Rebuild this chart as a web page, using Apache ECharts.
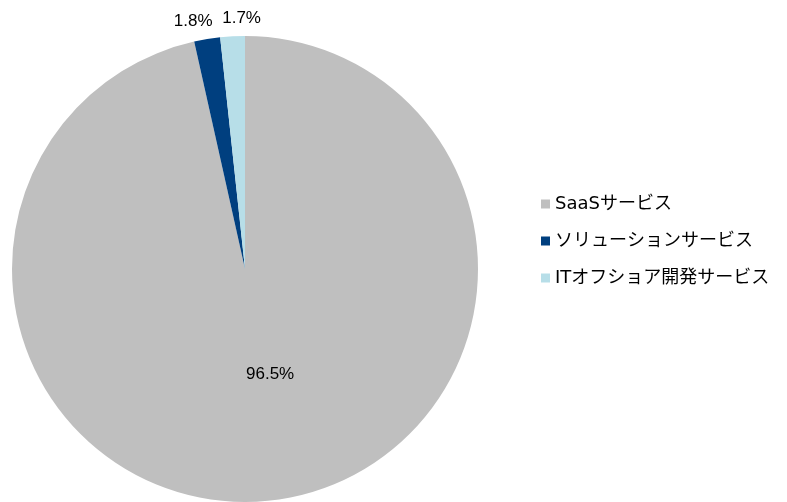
<!DOCTYPE html>
<html>
<head>
<meta charset="utf-8">
<script src="https://cdn.jsdelivr.net/npm/echarts@6/dist/echarts.min.js"></script>
<style>
  html, body { margin: 0; padding: 0; background: #fff; }
  #chart { width: 787px; height: 502px; }
</style>
</head>
<body>
<div id="chart"></div>
<script>
// Revenue share by business segment
const categories = ['SaaSサービス', 'ソリューションサービス', 'ITオフショア開発サービス'];
const shares = [96.5, 1.8, 1.7];
const colors = ['#BFBFBF', '#003F7F', '#B7DEE8'];

const labelFont = '"Liberation Sans Narrow", "Liberation Sans", Arial, sans-serif';
const legendFont = '"DejaVu Sans", "Noto Sans CJK JP", sans-serif';

// Small nudges so the two thin-slice labels sit side by side above the pie
const labelShift = [
  { dx: 12, dy: -13 },
  { dx: -6, dy: 0, align: 'center' },
  { dx: 15, dy: 0, align: 'center' }
];

const data = categories.map((name, i) => {
  const item = { name, value: shares[i], itemStyle: { color: colors[i] } };
  if (i === 0) {
    item.label = { position: 'inside' };
  }
  return item;
});

const chart = echarts.init(document.getElementById('chart'), null, { renderer: 'canvas' });
chart.setOption({
  animation: false,
  backgroundColor: '#ffffff',
  legend: {
    orient: 'vertical',
    left: 536,
    top: 190,
    itemWidth: 9,
    itemHeight: 9,
    itemGap: 19,
    icon: 'rect',
    textStyle: { fontFamily: legendFont, fontSize: 18, color: '#000', lineHeight: 18 },
    data: categories
  },
  series: [{
    type: 'pie',
    center: [245, 269],
    radius: 233,
    startAngle: 90,
    clockwise: true,
    avoidLabelOverlap: false,
    label: {
      show: true,
      position: 'outside',
      formatter: p => p.value.toFixed(1) + '%',
      fontFamily: labelFont,
      fontSize: 17,
      color: '#000'
    },
    labelLine: { show: false, length: 18, length2: 0 },
    labelLayout: params => Object.assign({ hideOverlap: false }, labelShift[params.dataIndex]),
    itemStyle: { borderWidth: 0 },
    emphasis: { disabled: true },
    data
  }]
});
</script>
</body>
</html>
